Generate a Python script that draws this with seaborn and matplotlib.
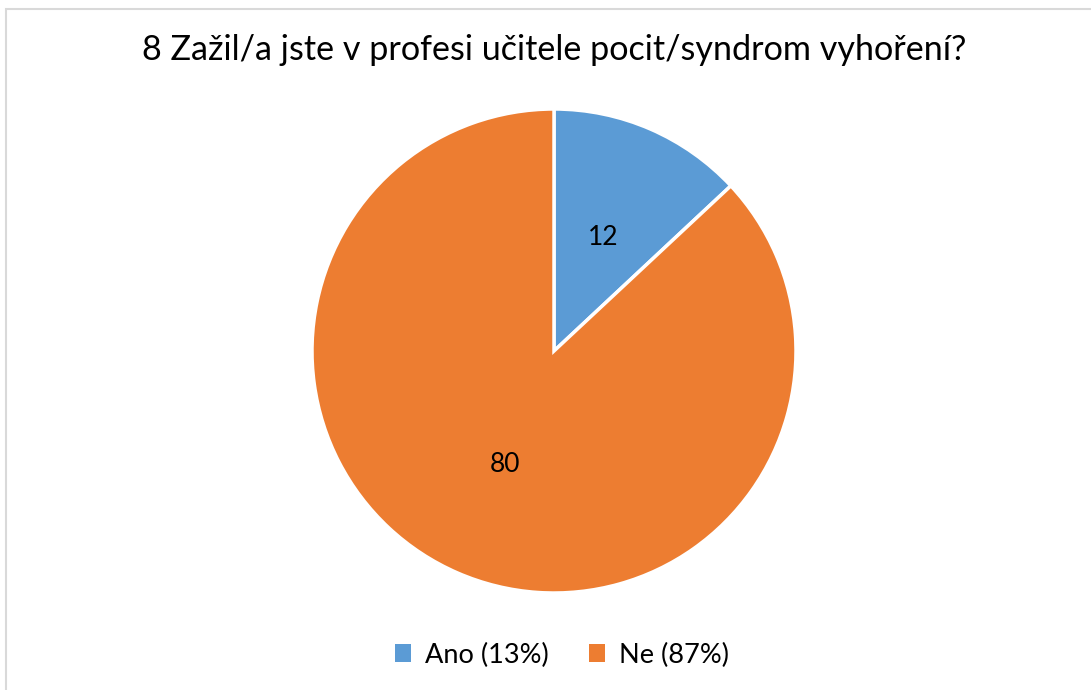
import matplotlib
matplotlib.use('Agg')
import matplotlib.pyplot as plt
import seaborn as sns
from matplotlib.patches import Rectangle, Patch

sns.set_theme(style='white')
plt.rcParams['font.family'] = ['Lato', 'DejaVu Sans']

# Data
categories = ['Ano', 'Ne']
values = [12, 80]
percent_labels = ['Ano (13%)', 'Ne (87%)']
colors = ['#5B9BD5', '#ED7D31']
title = '8 Zažil/a jste v profesi učitele pocit/syndrom vyhoření?'

W, H = 1091, 690
fig = plt.figure(figsize=(W / 100, H / 100), dpi=100)

# pie centre (554, 351) px, radius 242 px
cx, cy, r = 554, 351, 242
ax = fig.add_axes([(cx - r) / W, (H - cy - r) / H, 2 * r / W, 2 * r / H])

wedges, texts = ax.pie(values, labels=[str(v) for v in values], colors=colors,
                       startangle=90, counterclock=False, labeldistance=0.51,
                       wedgeprops=dict(edgecolor='white', linewidth=2.5),
                       textprops=dict(fontsize=19, color='black', ha='center', va='center'))
ax.set_xlim(-1, 1)
ax.set_ylim(-1, 1)
ax.set_aspect('equal')
ax.axis('off')

fig.text(0.508, (H - 50) / H, title, ha='center', va='center', fontsize=24.6, color='black')

handles = [Patch(facecolor=c, edgecolor='none') for c in colors]
fig.legend(handles, percent_labels, loc='center', bbox_to_anchor=(0.515, (H - 655) / H),
           ncol=2, frameon=False, fontsize=19.5, handlelength=0.6, handleheight=0.6,
           handletextpad=0.5, columnspacing=1.5, labelcolor='black')

# light chart border (left and top visible)
fig.patches.append(Rectangle((6 / W, -0.02), 1.1, (H - 9) / H + 0.02, transform=fig.transFigure,
                             fill=False, edgecolor='#d9d9d9', linewidth=1.5))

fig.savefig('out.png', dpi=100, facecolor='white')
